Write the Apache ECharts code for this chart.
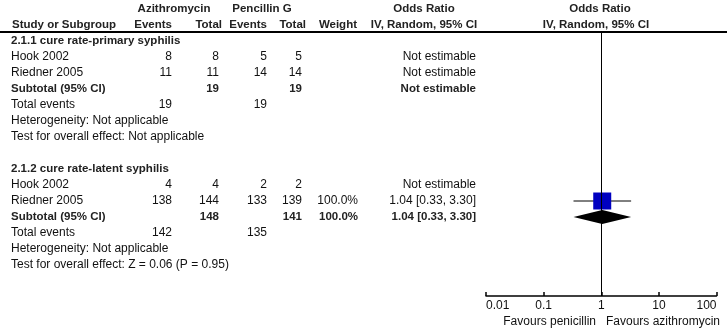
<!DOCTYPE html>
<html>
<head>
<meta charset="utf-8">
<script src="https://cdn.jsdelivr.net/npm/echarts@6/dist/echarts.min.js"></script>
<style>
  html, body { margin: 0; padding: 0; background: #fff; }
  #chart { width: 727px; height: 336px; }
</style>
</head>
<body>
<div id="chart"></div>
<script>
// ---- data ----
const groupTitles = ['2.1.1 cure rate-primary syphilis', '2.1.2 cure rate-latent syphilis']
const studyNames = [['Hook 2002', 'Riedner 2005'], ['Hook 2002', 'Riedner 2005']]
const aziEvents = [[8, 11], [4, 138]]
const aziTotal = [[8, 11], [4, 144]]
const penEvents = [[5, 14], [2, 133]]
const penTotal = [[5, 14], [2, 139]]
const studyWeight = [['', ''], ['', '100.0%']]
const studyOrText = [['Not estimable', 'Not estimable'], ['Not estimable', '1.04 [0.33, 3.30]']]
const studyOr = [[null, null], [null, 1.04]]
const studyLo = [[null, null], [null, 0.33]]
const studyHi = [[null, null], [null, 3.30]]

const subAziTotal = [19, 148]
const subPenTotal = [19, 141]
const subWeight = ['', '100.0%']
const subOrText = ['Not estimable', '1.04 [0.33, 3.30]']
const subOr = [null, 1.04]
const subLo = [null, 0.33]
const subHi = [null, 3.30]

const totalAziEvents = [19, 142]
const totalPenEvents = [19, 135]
const heterogeneity = ['Heterogeneity: Not applicable', 'Heterogeneity: Not applicable']
const overallEffect = ['Test for overall effect: Not applicable', 'Test for overall effect: Z = 0.06 (P = 0.95)']

const tickLabels = ['0.01', '0.1', '1', '10', '100']
const favourLeft = 'Favours penicillin'
const favourRight = 'Favours azithromycin'

// ---- layout ----
const col = {
  study: 11, aziEv: 172, aziTot: 219, penEv: 267, penTot: 302,
  weight: 358, orText: 476, aziHead: 174, penHead: 262, plotHead: 599
}
const FONT = "12px 'Liberation Sans', Arial, sans-serif"
const BOLD = "bold 11.5px 'Liberation Sans', Arial, sans-serif"

// text cells: [x, row, text, align, bold]
const cells = []
function cell(x, row, text, align, bold) {
  if (text === '' || text === null || text === undefined) return
  cells.push({ x: x, row: row, text: String(text), align: align, bold: !!bold })
}
// header
cell(col.aziHead, -2, 'Azithromycin', 'center', true)
cell(col.penHead, -2, 'Pencillin G', 'center', true)
cell(424, -2, 'Odds Ratio', 'center', true)
cell(col.plotHead + 1, -2, 'Odds Ratio', 'center', true)
cell(col.study + 1, -1, 'Study or Subgroup', 'left', true)
cell(col.aziEv, -1, 'Events', 'right', true)
cell(222, -1, 'Total', 'right', true)
cell(col.penEv, -1, 'Events', 'right', true)
cell(306, -1, 'Total', 'right', true)
cell(357, -1, 'Weight', 'right', true)
cell(424, -1, 'IV, Random, 95% CI', 'center', true)
cell(col.plotHead - 3, -1, 'IV, Random, 95% CI', 'center', true)

const squares = []
const diamonds = []
groupTitles.forEach(function (title, g) {
  const r0 = g * 8
  cell(col.study, r0, title, 'left', true)
  studyNames[g].forEach(function (name, i) {
    const r = r0 + 1 + i
    cell(col.study, r, name, 'left')
    cell(col.aziEv, r, aziEvents[g][i], 'right')
    cell(col.aziTot, r, aziTotal[g][i], 'right')
    cell(col.penEv, r, penEvents[g][i], 'right')
    cell(col.penTot, r, penTotal[g][i], 'right')
    cell(col.weight, r, studyWeight[g][i], 'right')
    cell(col.orText, r, studyOrText[g][i], 'right')
    if (studyOr[g][i] !== null) squares.push([studyOr[g][i], r, studyLo[g][i], studyHi[g][i]])
  })
  const rs = r0 + 1 + studyNames[g].length
  cell(col.study, rs, 'Subtotal (95% CI)', 'left', true)
  cell(col.aziTot, rs, subAziTotal[g], 'right', true)
  cell(col.penTot, rs, subPenTotal[g], 'right', true)
  cell(col.weight, rs, subWeight[g], 'right', true)
  cell(col.orText, rs, subOrText[g], 'right', true)
  if (subOr[g] !== null) diamonds.push([subOr[g], rs, subLo[g], subHi[g]])
  cell(col.study, rs + 1, 'Total events', 'left')
  cell(col.aziEv, rs + 1, totalAziEvents[g], 'right')
  cell(col.penEv, rs + 1, totalPenEvents[g], 'right')
  cell(col.study, rs + 2, heterogeneity[g], 'left')
  cell(col.study, rs + 3, overallEffect[g], 'left')
})
cell(596, 17.56, favourLeft, 'right')
cell(606, 17.56, favourRight, 'left')

// row r sits at pixel 41 + 16 r
const ROW0 = 41
const ROWH = 16
function rowAt(px) { return (px - ROW0) / ROWH }

const chart = echarts.init(document.getElementById('chart'))
chart.setOption({
  animation: false,
  grid: [
    { left: 0, right: 0, top: 0, bottom: 0 },
    { left: 486, right: 10.5, top: 32, bottom: 40 }
  ],
  xAxis: [
    { gridIndex: 0, type: 'value', min: 0, max: 727, show: false },
    {
      gridIndex: 1,
      type: 'log',
      logBase: 10,
      min: 0.01,
      max: 100,
      splitNumber: 4,
      position: 'bottom',
      axisLine: { onZero: false, lineStyle: { color: '#000', width: 1.5 } },
      axisTick: { inside: true, length: 4, lineStyle: { color: '#000', width: 1.5 } },
      splitLine: { show: false },
      axisLabel: {
        color: '#111',
        fontFamily: "'Liberation Sans', Arial, sans-serif",
        fontSize: 12,
        margin: 4,
        alignMinLabel: 'left',
        alignMaxLabel: 'right',
        formatter: function (v) {
          const i = Math.round(Math.log10(v)) + 2
          return tickLabels[i] || ''
        }
      }
    }
  ],
  yAxis: [
    { gridIndex: 0, type: 'value', inverse: true, min: rowAt(0), max: rowAt(336), show: false },
    { gridIndex: 1, type: 'value', inverse: true, min: rowAt(32), max: rowAt(296), show: false }
  ],
  series: [
    {
      type: 'custom',
      xAxisIndex: 0,
      yAxisIndex: 0,
      silent: true,
      data: cells.map(function (c, i) { return [c.x, c.row, i] }),
      encode: { x: 0, y: 1 },
      renderItem: function (params, api) {
        const c = cells[api.value(2)]
        const p = api.coord([api.value(0), api.value(1)])
        return {
          type: 'text',
          x: p[0],
          y: p[1],
          style: {
            text: c.text,
            align: c.align,
            verticalAlign: 'middle',
            font: c.bold ? BOLD : FONT,
            fill: c.bold ? '#222' : '#111'
          }
        }
      },
      markLine: {
        silent: true,
        symbol: ['none', 'none'],
        label: { show: false },
        lineStyle: { color: '#000', type: 'solid', width: 2 },
        data: [{ yAxis: rowAt(32) }]
      }
    },
    {
      // confidence intervals
      type: 'custom',
      xAxisIndex: 1,
      yAxisIndex: 1,
      silent: true,
      data: squares,
      encode: { x: 0, y: 1 },
      renderItem: function (params, api) {
        const a = api.coord([api.value(2), api.value(1)])
        const b = api.coord([api.value(3), api.value(1)])
        return {
          type: 'line',
          shape: { x1: a[0], y1: a[1], x2: b[0], y2: b[1] },
          style: { stroke: '#000', lineWidth: 1 }
        }
      },
      markLine: {
        silent: true,
        symbol: ['none', 'none'],
        label: { show: false },
        lineStyle: { color: '#000', type: 'solid', width: 1 },
        data: [{ xAxis: 1 }]
      }
    },
    {
      type: 'scatter',
      xAxisIndex: 1,
      yAxisIndex: 1,
      silent: true,
      symbol: 'rect',
      symbolSize: [18, 17],
      itemStyle: { color: '#0000c0', opacity: 1 },
      data: squares.map(function (s) { return [s[0], s[1]] })
    },
    {
      // pooled diamonds
      type: 'custom',
      xAxisIndex: 1,
      yAxisIndex: 1,
      silent: true,
      data: diamonds,
      encode: { x: 0, y: 1 },
      renderItem: function (params, api) {
        const lo = api.coord([api.value(2), api.value(1)])
        const mid = api.coord([api.value(0), api.value(1)])
        const hi = api.coord([api.value(3), api.value(1)])
        return {
          type: 'polygon',
          shape: { points: [[lo[0], lo[1]], [mid[0], mid[1] - 7], [hi[0], hi[1]], [mid[0], mid[1] + 7]] },
          style: { fill: '#000' }
        }
      }
    }
  ]
})
</script>
</body>
</html>
